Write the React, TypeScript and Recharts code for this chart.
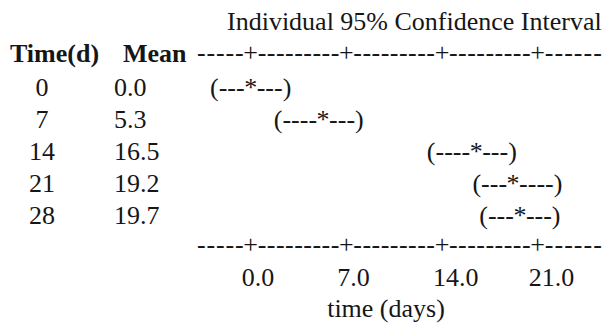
import { ScatterChart, Scatter, XAxis, YAxis } from 'recharts';

// one-way ANOVA style interval plot, time in days
const times = [0, 7, 14, 21, 28];
const means = [0.0, 5.3, 16.5, 19.2, 19.7];
// left / right arms of each text interval, split at the '*'
const ciLeft = ['(---', '(----', '(----', '(---', '(---'];
const ciRight = ['---)', '---)', '---)', '----)', '---)'];

const xTicks = [0, 7, 14, 21];
const xTickLabels = ['0.0', '7.0', '14.0', '21.0'];
const rowTicks = [0, 1, 2, 3, 4];

const W = 610;
const H = 324;
// axes get a 1px box (a zero-size axis is not drawn at all)
const AXIS_BOX = 1;
const MARGIN = { top: 54, right: 4, bottom: 76, left: 195 };
const X_DOMAIN: [number, number] = [-4, 26];
const Y_DOMAIN: [number, number] = [-1.1, 4.9];
const PX_PER_DAY = (W - MARGIN.left - AXIS_BOX - MARGIN.right) / (X_DOMAIN[1] - X_DOMAIN[0]);

const FONT = '"Liberation Serif", "Times New Roman", serif';
const FS = 26;
const INK = '#161616';
const PLUS_HALF = 7;
const BASE_DY = 6; // baseline offset so '-' and '+' sit on the axis line

const rows = times.map((t, i) => ({ row: i, mean: means[i], time: t }));

function dashes(n: number) {
  return '-'.repeat(n);
}

function T(props: any) {
  return <text fill={INK} fontFamily={FONT} fontSize={FS} {...props} />;
}

// '+' at every tick with hyphens between, minitab character-plot style
function makeAxisTick(withLabels: boolean) {
  return function AxisTick(props: any) {
    const { x, y, index } = props;
    const step = 7 * PX_PER_DAY;
    const by = y + BASE_DY;
    const isFirst = index === 0;
    const isLast = index === xTicks.length - 1;
    const leftStart = isFirst ? x - 4 * PX_PER_DAY + 1 : x - step + PLUS_HALF;
    const leftEnd = x - PLUS_HALF;
    const rightEnd = x + 5 * PX_PER_DAY - 4;
    return (
      <g>
        <T x={leftStart} y={by} textLength={leftEnd - leftStart} lengthAdjust="spacing">
          {dashes(isFirst ? 5 : 9)}
        </T>
        <T x={x} y={by} textAnchor="middle">+</T>
        {isLast && (
          <T x={x + PLUS_HALF} y={by} textLength={rightEnd - x - PLUS_HALF} lengthAdjust="spacing">
            {dashes(6)}
          </T>
        )}
        {withLabels && (
          <T x={x - 9} y={y + 39} textAnchor="start">
            {xTickLabels[index]}
          </T>
        )}
      </g>
    );
  };
}

// time / mean table on the left of each interval row
function RowTick(props: any) {
  const { y, index } = props;
  return (
    <g>
      <T x={42} y={y + BASE_DY} textAnchor="middle">{times[index]}</T>
      <T x={114} y={y + BASE_DY} textAnchor="start">{means[index].toFixed(1)}</T>
    </g>
  );
}

function IntervalGlyph(props: any) {
  const { cx, cy, index } = props;
  const by = cy + BASE_DY;
  return (
    <g>
      <T x={cx - 6} y={by} textAnchor="end">{ciLeft[index]}</T>
      <T x={cx} y={by} textAnchor="middle">*</T>
      <T x={cx + 6} y={by} textAnchor="start">{ciRight[index]}</T>
    </g>
  );
}

function NoMark() {
  return <g />;
}

function TitleLabel(props: any) {
  const { viewBox } = props;
  return (
    <T x={viewBox.x + 31} y={viewBox.y - 24}>
      Individual 95% Confidence Interval
    </T>
  );
}

function HeaderLabel(props: any) {
  const { viewBox } = props;
  const by = viewBox.y + BASE_DY + 1;
  return (
    <g>
      <T x={10} y={by} fontWeight="bold">Time(d)</T>
      <T x={123} y={by} fontWeight="bold">Mean</T>
    </g>
  );
}

function XTitleLabel(props: any) {
  const { viewBox } = props;
  return (
    <T x={386} y={viewBox.y + 70} textAnchor="middle">
      time (days)
    </T>
  );
}

export default function App() {
  return (
    <div
      style={{
        position: 'absolute',
        left: 0,
        top: 0,
        width: W,
        height: H,
        background: '#fff',
        fontFamily: FONT,
      }}
    >
      <ScatterChart width={W} height={H} margin={MARGIN}>
        <XAxis
          type="number"
          dataKey="mean"
          domain={X_DOMAIN}
          ticks={xTicks}
          interval={0}
          allowDataOverflow
          height={AXIS_BOX}
          axisLine={false}
          tickLine={false}
          tickSize={0}
          tickMargin={0}
          tick={makeAxisTick(true)}
          label={<XTitleLabel />}
        />
        <XAxis
          xAxisId="top"
          orientation="top"
          type="number"
          dataKey="mean"
          domain={X_DOMAIN}
          ticks={xTicks}
          interval={0}
          allowDataOverflow
          height={AXIS_BOX}
          axisLine={false}
          tickLine={false}
          tickSize={0}
          tickMargin={0}
          tick={makeAxisTick(false)}
          label={<TitleLabel />}
        />
        <YAxis
          type="number"
          dataKey="row"
          domain={Y_DOMAIN}
          reversed
          ticks={rowTicks}
          interval={0}
          allowDataOverflow
          width={AXIS_BOX}
          axisLine={false}
          tickLine={false}
          tickSize={0}
          tickMargin={0}
          tick={RowTick}
          label={<HeaderLabel />}
        />
        <Scatter data={rows} shape={IntervalGlyph} isAnimationActive={false} />
        {/* keeps the top axis bound to the same means */}
        <Scatter data={rows} xAxisId="top" shape={NoMark} isAnimationActive={false} />
      </ScatterChart>
    </div>
  );
}
